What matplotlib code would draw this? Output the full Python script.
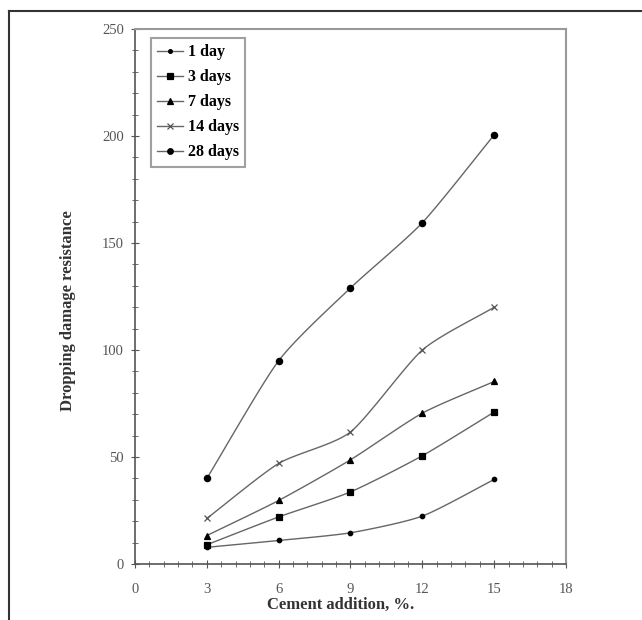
import numpy as np
import matplotlib
matplotlib.use("Agg")
from matplotlib import pyplot as plt
from matplotlib.lines import Line2D
from matplotlib.ticker import MultipleLocator

# cement addition (%)
cement = [3, 6, 9, 12, 15]

# dropping damage resistance per curing age
day_1 = [7.8, 11, 14.6, 22.4, 39.5]
days_3 = [9, 22, 33.7, 50.6, 71]
days_7 = [13.3, 29.7, 48.7, 70.5, 85.3]
days_14 = [21.3, 47, 61.7, 100, 120]
days_28 = [40, 95, 129, 159.5, 200.5]

labels = ["1 day", "3 days", "7 days", "14 days", "28 days"]
series = [day_1, days_3, days_7, days_14, days_28]
markers = ["o", "s", "^", "x", "o"]
msizes = [3.2, 4.5, 4.2, 4.5, 4.5]
mcolors = ["black", "black", "black", "#555555", "black"]


def smooth(x, y, n=20):
    """Catmull-Rom style smoothing like a spreadsheet 'smoothed line'."""
    x = np.asarray(x, float)
    y = np.asarray(y, float)
    px = np.concatenate([[2 * x[0] - x[1]], x, [2 * x[-1] - x[-2]]])
    py = np.concatenate([[2 * y[0] - y[1]], y, [2 * y[-1] - y[-2]]])
    xs, ys = [], []
    t = np.linspace(0, 1, n)
    for i in range(1, len(px) - 2):
        for p, out in ((px, xs), (py, ys)):
            p0, p1, p2, p3 = p[i - 1], p[i], p[i + 1], p[i + 2]
            m1 = (p2 - p0) / 2 / 1.5
            m2 = (p3 - p1) / 2 / 1.5
            h00 = 2 * t**3 - 3 * t**2 + 1
            h10 = t**3 - 2 * t**2 + t
            h01 = -2 * t**3 + 3 * t**2
            h11 = t**3 - t**2
            out.extend(h00 * p1 + h10 * m1 + h01 * p2 + h11 * m2)
    return xs, ys


plt.rcParams["font.family"] = ["Liberation Serif", "DejaVu Serif"]

fig = plt.figure(figsize=(6.42, 6.2), dpi=100)
ax = fig.add_axes([0.2103, 0.0903, 0.6713, 0.8629])

handles = []
for vals, lab, mk, ms, mc in zip(series, labels, markers, msizes, mcolors):
    sx, sy = smooth(cement, vals)
    ax.plot(sx, sy, color="#666666", lw=1.0)
    ax.plot(cement, vals, linestyle="none", marker=mk, color=mc,
            markersize=ms, markeredgewidth=0.9)
    handles.append(Line2D([], [], color="#666666", lw=1.0, marker=mk,
                          markerfacecolor=mc, markeredgecolor=mc,
                          markersize=ms - 0.5, markeredgewidth=0.9))

ax.set_xlim(0, 18)
ax.set_ylim(0, 250)
ax.xaxis.set_major_locator(MultipleLocator(3))
ax.xaxis.set_minor_locator(MultipleLocator(0.6))
ax.yaxis.set_major_locator(MultipleLocator(50))
ax.yaxis.set_minor_locator(MultipleLocator(10))
ax.tick_params(which="both", direction="inout", color="#555555",
               top=False, right=False)
ax.tick_params(which="major", length=6, labelsize=10.5, labelcolor="#555555")
ax.tick_params(which="minor", length=4)
ax.tick_params(axis="x", which="major", pad=11)
ax.tick_params(axis="y", which="major", pad=5)

for side in ["left", "bottom"]:
    ax.spines[side].set_color("#555555")
    ax.spines[side].set_linewidth(1.2)
for side in ["top", "right"]:
    ax.spines[side].set_color("#999999")
    ax.spines[side].set_linewidth(1.5)

ax.set_xlabel("Cement addition, %.", fontsize=12, fontweight="bold", color="#333333")
ax.set_ylabel("Dropping damage resistance", fontsize=12, fontweight="bold", color="#333333")
ax.xaxis.set_label_coords(0.476, -0.0766)
ax.xaxis.label.set_verticalalignment("center")
ax.yaxis.set_label_coords(-0.155, 0.473)
ax.yaxis.label.set_verticalalignment("center")

leg = ax.legend(handles, labels, loc="upper left", bbox_to_anchor=(0.037, 0.983),
                borderaxespad=0, frameon=True, fancybox=False, handlelength=1.6,
                handletextpad=0.3, borderpad=0.4, labelspacing=0.56,
                prop={"family": "Liberation Serif", "weight": "bold", "size": 11.5})
leg.get_frame().set_edgecolor("#888888")
leg.get_frame().set_linewidth(1.5)

# outer frame (left and top only)
fig.add_artist(Line2D([9 / 642, 9 / 642], [0, 1 - 11 / 620], transform=fig.transFigure,
                      color="#333333", lw=1.5))
fig.add_artist(Line2D([9 / 642, 1], [1 - 11 / 620, 1 - 11 / 620], transform=fig.transFigure,
                      color="#333333", lw=1.5))

fig.savefig("out.png", dpi=100)
